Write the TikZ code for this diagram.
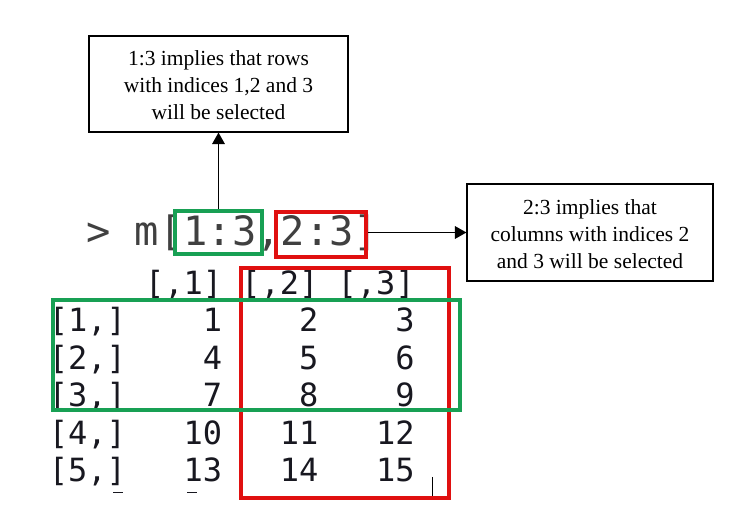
\documentclass[tikz,border=0pt]{standalone}
\usepackage{fontspec}
\setmainfont{Liberation Serif}
\newfontfamily\mono{DejaVu Sans Mono}
\usetikzlibrary{arrows.meta}
\definecolor{selgreen}{RGB}{24,160,84}
\definecolor{selred}{RGB}{224,16,16}
\definecolor{cmdgray}{RGB}{64,64,64}
\definecolor{termink}{RGB}{24,24,32}
\newcommand{\notelines}[1]{\raisebox{-3.5pt}[\height][\depth]{\begin{tabular}{@{}c@{}}#1\end{tabular}}}
\tikzset{
  notebox/.style={draw=black, line width=1.1pt, inner sep=0pt,
    font=\fontsize{21.5}{27}\selectfont},
  gbox/.style={draw=selgreen, line width=4pt, inner sep=0pt},
  rbox/.style={draw=selred, line width=4pt, inner sep=0pt},
  cell/.style={anchor=base east, inner sep=0pt, text=termink,
    font=\mono\fontsize{32}{32}\selectfont},
  cmd/.style={anchor=base west, inner sep=0pt, text=cmdgray,
    font=\mono\fontsize{40.4}{40}\selectfont},
  arr/.style={line width=1.7pt, -{Triangle[length=11.5pt,width=12.5pt]}}
}
\begin{document}
\begin{tikzpicture}[x=1pt,y=-1pt]
\useasboundingbox (0,0) rectangle (732,526);
\fill[white] (0,0) rectangle (732,526);
\def\cz{49}
\def\pp{19.26}
% command line
\node[cmd] (cmdline) at (86,246) {> m[1:3,2:3]};
% header
\foreach \k in {1,2,3} {
  \node[cell] (h\k) at ({\cz+(4+5*\k)*\pp},295) {[,\k]};
}
% rows
\foreach \r/\a/\b/\c in {1/1/2/3, 2/4/5/6, 3/7/8/9, 4/10/11/12, 5/13/14/15} {
  \node[cell] (r\r) at ({\cz+4*\pp},{332+37.5*(\r-1)}) {[\r,]};
  \node[cell] (v\r a) at ({\cz+9*\pp},{332+37.5*(\r-1)}) {\a};
  \node[cell] (v\r b) at ({\cz+14*\pp},{332+37.5*(\r-1)}) {\b};
  \node[cell] (v\r c) at ({\cz+19*\pp},{332+37.5*(\r-1)}) {\c};
}
% glyph remnants of the next row and the cursor
\draw[termink, line width=1pt] (113,493) -- (123,493);
\draw[termink, line width=1pt] (187,493) -- (197,493);
\draw[black, line width=0.8pt] (432.7,477) -- (432.7,497);
% selection boxes
\node[rbox, minimum width=208pt, minimum height=230pt] (colsel) at (345,383) {};
\node[gbox, minimum width=407pt, minimum height=110pt] (rowsel) at (256.5,355) {};
\node[gbox, minimum width=87pt, minimum height=43pt] (gsel) at (218.5,232.5) {};
\node[rbox, minimum width=90pt, minimum height=45pt] (rsel) at (321,234.5) {};
% note boxes
\node[notebox, minimum width=259pt, minimum height=96pt] (tbox) at (218.5,84)
  {\notelines{1:3 implies that rows\\with indices 1,2 and 3\\will be selected}};
\node[notebox, minimum width=246pt, minimum height=97pt] (rnote) at (590,232.5)
  {\notelines{2:3 implies that\\columns with indices 2\\and 3 will be selected}};
% arrows
\draw[arr] (gsel.north) -- (tbox.south);
\draw[arr] (rnote.west -| rsel.east) -- (rnote.west);
\end{tikzpicture}
\end{document}
